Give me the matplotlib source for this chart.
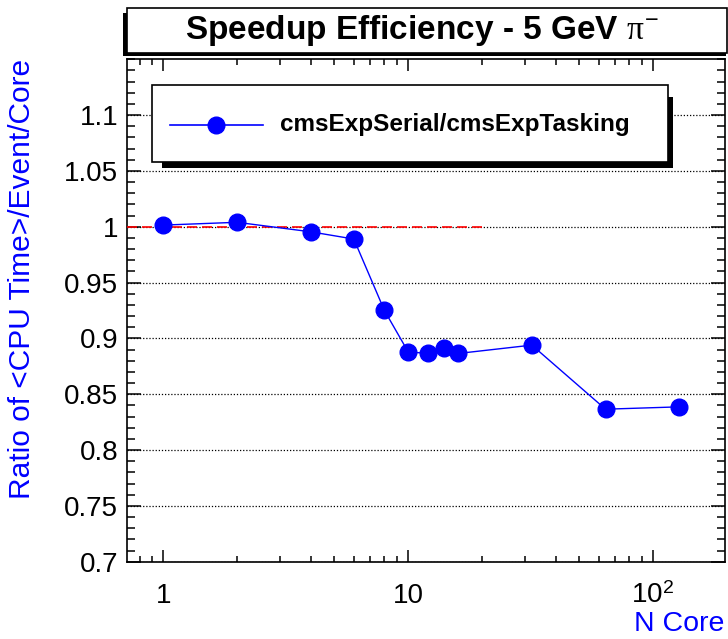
import numpy as np
import matplotlib
matplotlib.use("Agg")
import matplotlib.pyplot as plt
from matplotlib.patches import Rectangle
from matplotlib.lines import Line2D
from matplotlib.ticker import FixedLocator, FixedFormatter, LogLocator, NullFormatter, MultipleLocator

# data
n_core = [1, 2, 4, 6, 8, 10, 12, 14, 16, 32, 64, 128]
ratio = [1.0015, 1.004, 0.9955, 0.989, 0.925, 0.888, 0.8865, 0.891, 0.8865, 0.894, 0.8366, 0.8387]
ref_x = [0.7087, 20]
ref_y = [1.0, 1.0]
x_ticks = [1, 10, 100]
x_tick_labels = ["1", "10", r"$10^{2}$"]
y_ticks = [0.7, 0.75, 0.8, 0.85, 0.9, 0.95, 1.0, 1.05, 1.1]
y_tick_labels = ["0.7", "0.75", "0.8", "0.85", "0.9", "0.95", "1", "1.05", "1.1"]
series_label = "cmsExpSerial/cmsExpTasking"

plt.rcParams["font.family"] = ["Liberation Sans", "DejaVu Sans"]
plt.rcParams["mathtext.fontset"] = "custom"
plt.rcParams["mathtext.rm"] = "Liberation Sans"
plt.rcParams["mathtext.it"] = "Liberation Serif"

W, H = 728, 639
fig = plt.figure(figsize=(W / 100, H / 100), dpi=100)

def fx(px):
    return px / W

def fy(py):
    return 1 - py / H

# axes box in pixels
left, right, top, bottom = 126.7, 724.7, 59.3, 561.7
ax = fig.add_axes([fx(left), fy(bottom), fx(right) - fx(left), fy(top) - fy(bottom)])

ax.plot(n_core, ratio, color="#0000ff", lw=1.0, marker="o", ms=12, mec="#0000ff", mfc="#0000ff", zorder=4)
ax.plot(ref_x, ref_y, color="#ff0000", lw=1.2, ls=(0, (6, 3)), zorder=3)

ax.set_xscale("log")
ax.set_xlim(0.7087, 196.3)
ax.set_ylim(0.7, 1.15)

ax.xaxis.set_major_locator(FixedLocator(x_ticks))
ax.xaxis.set_major_formatter(FixedFormatter(x_tick_labels))
ax.xaxis.set_minor_locator(LogLocator(base=10, subs=np.arange(2, 10)))
ax.xaxis.set_minor_formatter(NullFormatter())
ax.yaxis.set_major_locator(FixedLocator(y_ticks))
ax.yaxis.set_major_formatter(FixedFormatter(y_tick_labels))
ax.yaxis.set_minor_locator(MultipleLocator(0.01))

ax.tick_params(which="both", direction="in", top=True, right=True, width=1.1, labelsize=20)
ax.tick_params(axis="y", which="major", length=10, pad=6)
ax.tick_params(axis="y", which="minor", length=5.5)
ax.tick_params(axis="x", which="major", length=8.5, pad=15)
ax.tick_params(axis="x", which="minor", length=4.5)
for sp in ax.spines.values():
    sp.set_linewidth(1.2)

ax.yaxis.grid(True, which="major", color="black", ls=(0, (1, 1.5)), lw=0.9)
ax.set_axisbelow(False)

# axis titles, ROOT style
fig.text(fx(22), fy(top), "Ratio of <CPU Time>/Event/Core", color="#0000ff", fontsize=21.5,
         rotation=90, ha="center", va="top")
fig.text(fx(right), fy(624), "N Core", color="#0000ff", fontsize=20.5, ha="right", va="center")

# title box with shadow
fig.add_artist(Rectangle((fx(122.7), fy(56)), fx(726) - fx(122.7), fy(13) - fy(56),
                         transform=fig.transFigure, facecolor="black", edgecolor="none"))
fig.add_artist(Rectangle((fx(126.7), fy(53.3)), fx(726.5) - fx(126.7), fy(8) - fy(53.3),
                         transform=fig.transFigure, facecolor="white", edgecolor="black", lw=1.2))
fig.text(fx(422), fy(31), r"Speedup Efficiency - 5 GeV $\pi^{-}$", fontsize=24, fontweight="bold",
         ha="center", va="center")

# legend box with shadow
lg_l, lg_r, lg_t, lg_b = 151.7, 668, 85, 161.7
fig.add_artist(Rectangle((fx(lg_l + 10), fy(lg_b + 6)), fx(lg_r + 5) - fx(lg_l + 10), fy(lg_t + 12) - fy(lg_b + 6),
                         transform=fig.transFigure, facecolor="black", edgecolor="none", zorder=5))
fig.add_artist(Rectangle((fx(lg_l), fy(lg_b)), fx(lg_r) - fx(lg_l), fy(lg_t) - fy(lg_b),
                         transform=fig.transFigure, facecolor="white", edgecolor="black", lw=1.2, zorder=6))
fig.add_artist(Line2D([fx(170), fx(262.7)], [fy(125), fy(125)], transform=fig.transFigure,
                      color="#0000ff", lw=1.2, zorder=7))
fig.add_artist(Line2D([fx(216)], [fy(125)], transform=fig.transFigure, marker="o", ms=12,
                      color="#0000ff", zorder=8))
fig.text(fx(280), fy(125), series_label, fontsize=17.5, fontweight="bold", ha="left", va="center", zorder=9)

fig.savefig("out.png", dpi=100)
